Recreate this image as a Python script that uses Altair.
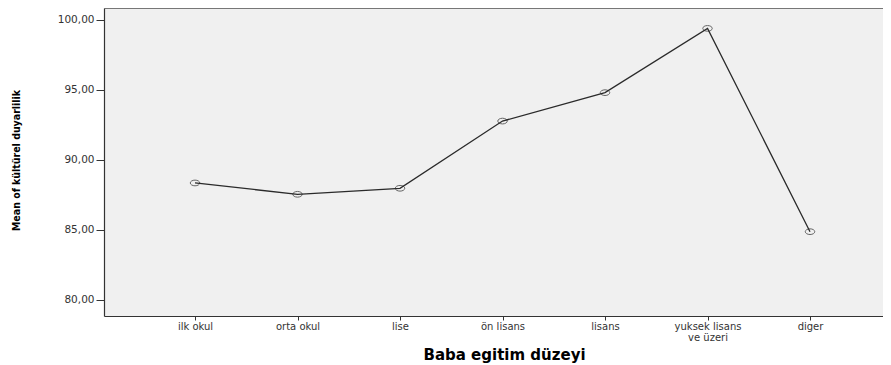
import altair as alt
import pandas as pd

categories = ["ilk okul", "orta okul", "lise", "ön lisans", "lisans", "yuksek lisans ve üzeri", "diger"]
means = [88.36, 87.55, 87.98, 92.78, 94.81, 99.40, 84.88]
y_ticks = [80, 85, 90, 95, 100]

df = pd.DataFrame({"cat": categories, "mean": means})

x_scale = alt.Scale(type="point", padding=0.8, align=0.555)

x_enc = alt.X(
    "cat:N",
    sort=categories,
    scale=x_scale,
    axis=alt.Axis(
        title="Baba egitim düzeyi",
        titleFont="DejaVu Sans",
        titleFontSize=15,
        titleFontWeight="bold",
        titleColor="#000000",
        titleX=400,
        titleY=38,
        titleBaseline="middle",
        titleAlign="center",
        labelFont="DejaVu Sans",
        labelFontSize=10,
        labelColor="#333333",
        labelAngle=0,
        labelBaseline="top",
        labelLineHeight=11,
        labelPadding=1,
        labelExpr="datum.value == 'yuksek lisans ve üzeri' ? ['yuksek lisans', 've üzeri'] : datum.value",
        tickSize=4,
        tickColor="#333333",
        domainColor="#333333",
        domainWidth=1.2,
        grid=False,
    ),
)

x_top = alt.X(
    "cat:N",
    sort=categories,
    scale=x_scale,
    axis=alt.Axis(
        orient="top",
        title=None,
        labels=False,
        ticks=False,
        domainColor="#777777",
        domainWidth=1,
        grid=False,
    ),
)

y_enc = alt.Y(
    "mean:Q",
    scale=alt.Scale(domain=[78.857, 100.857], nice=False, zero=False),
    axis=alt.Axis(
        title="Mean of kültürel duyarlilik",
        titleFont="Liberation Sans Narrow, DejaVu Sans Condensed, Roboto Condensed, Arial Narrow, DejaVu Sans",
        titleFontSize=10.5,
        titleFontWeight="bold",
        titleColor="#000000",
        titleX=-88,
        titleY=152,
        titleAlign="center",
        titleBaseline="middle",
        titleAngle=-90,
        values=y_ticks,
        labelExpr="replace(format(datum.value, '.2f'), '.', ',')",
        labelFont="DejaVu Sans",
        labelFontSize=10.5,
        labelColor="#333333",
        labelPadding=2,
        tickSize=8,
        tickColor="#333333",
        domainColor="#333333",
        domainWidth=1.2,
        grid=False,
    ),
)

line = alt.Chart(df).mark_line(color="#2a2a2a", strokeWidth=1.3).encode(x=x_enc, y=y_enc)
pts = alt.Chart(df).mark_point(
    shape="M -1 0 A 1 0.6 0 1 0 1 0 A 1 0.6 0 1 0 -1 0 Z",
    size=90,
    filled=False,
    color="#2a2a2a",
    strokeWidth=1,
).encode(x=x_top, y=y_enc)

chart = (
    alt.layer(line, pts)
    .resolve_axis(x="independent")
    .properties(
        width=779,
        height=308,
        autosize=alt.AutoSizeParams(type="none"),
        padding={"left": 96, "top": 0, "right": 0, "bottom": 49},
        background="#ffffff",
    )
    .configure_view(fill="#f0f0f0", stroke=None)
)

chart.save("out.html", embed_options={"renderer": "svg", "actions": False})
